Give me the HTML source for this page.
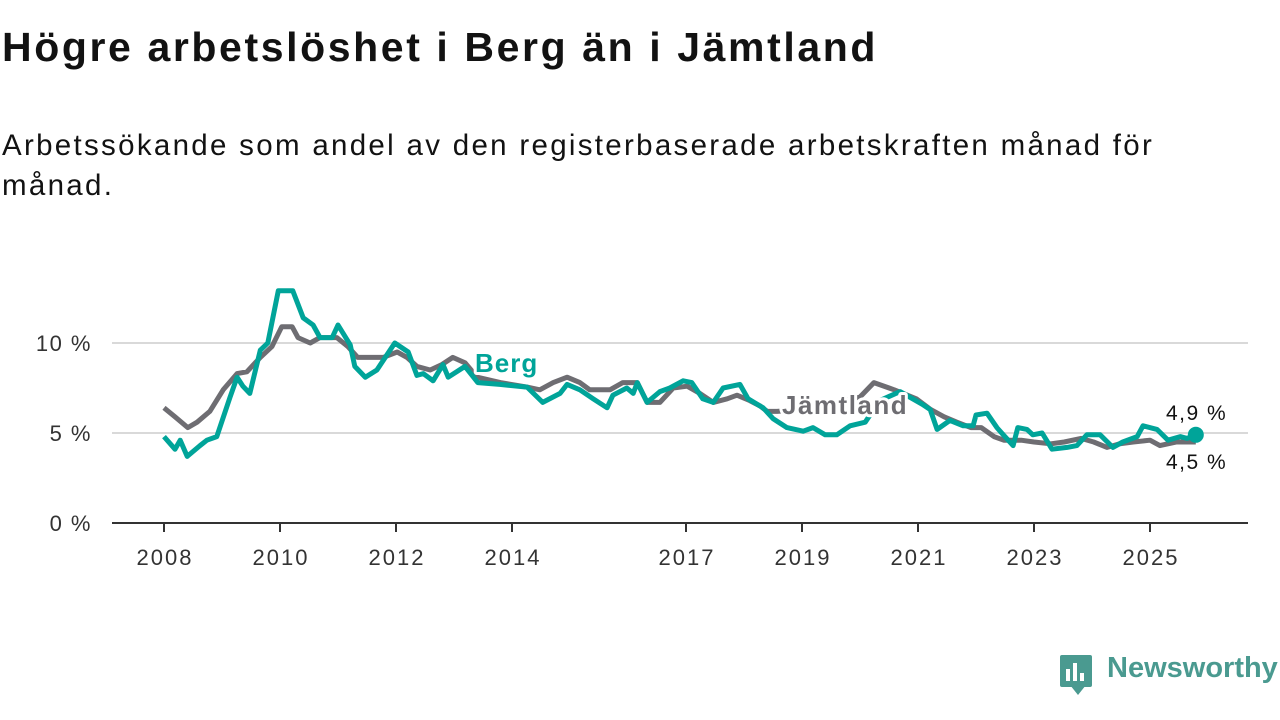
<!DOCTYPE html>
<html><head><meta charset="utf-8"><style>
body{margin:0;width:1280px;height:720px;background:#fff;overflow:hidden;font-family:"Liberation Sans",sans-serif;position:relative}
h1{position:absolute;left:2px;top:24px;margin:0;font-size:41px;font-weight:bold;color:#121212;letter-spacing:2.6px;white-space:nowrap}
p{position:absolute;left:2px;top:126px;margin:0;font-size:29.5px;line-height:40px;color:#121212;width:1240px;letter-spacing:2.3px}
svg{position:absolute;left:0;top:0}
</style></head><body>
<h1>Högre arbetslöshet i Berg än i Jämtland</h1>
<p>Arbetssökande som andel av den registerbaserade arbetskraften månad för<br>månad.</p>
<svg id="chart" width="1280" height="720"></svg>
<script>
const yTicks=[0,5,10];
const xTickYears=[2008,2010,2012,2014,2017,2019,2021,2023,2025];
const bergT=[0,.19,.28,.40,.62,.74,.91,1.14,1.26,1.36,1.48,1.66,1.79,1.97,2.22,2.40,2.57,2.69,2.90,3.0,3.21,3.29,3.47,3.67,3.98,4.21,4.36,4.47,4.64,4.81,4.90,5.19,5.41,5.79,6.26,6.53,6.83,6.95,7.17,7.40,7.64,7.74,7.98,8.09,8.16,8.33,8.55,8.72,8.95,9.10,9.29,9.47,9.64,9.93,10.07,10.33,10.5,10.74,11.02,11.19,11.40,11.60,11.83,12.09,12.34,12.69,13.07,13.21,13.33,13.55,13.78,13.95,14.0,14.19,14.36,14.47,14.64,14.72,14.88,14.98,15.14,15.31,15.57,15.74,15.91,16.14,16.36,16.53,16.78,16.88,17.12,17.31,17.52,17.64,17.79];
const bergV=[4.8,4.1,4.6,3.7,4.3,4.6,4.8,7.0,8.1,7.6,7.2,9.6,10.0,12.9,12.9,11.4,11.0,10.3,10.3,11.0,9.9,8.7,8.1,8.5,10.0,9.5,8.2,8.3,7.9,8.8,8.1,8.7,7.8,7.7,7.55,6.7,7.2,7.7,7.4,6.9,6.4,7.1,7.5,7.2,7.8,6.7,7.3,7.5,7.9,7.8,6.9,6.7,7.5,7.7,6.9,6.4,5.8,5.3,5.1,5.3,4.9,4.9,5.4,5.6,6.8,7.3,6.6,6.3,5.2,5.7,5.4,5.4,6.0,6.1,5.3,4.9,4.3,5.3,5.2,4.9,5.0,4.1,4.2,4.3,4.9,4.9,4.2,4.5,4.8,5.4,5.2,4.6,4.8,4.7,4.9];
const jamtT=[0,.19,.41,.57,.79,1.02,1.26,1.43,1.66,1.86,2.03,2.21,2.31,2.52,2.69,2.98,3.17,3.34,3.55,3.78,4.02,4.19,4.36,4.59,4.79,4.98,5.19,5.40,5.8,6.26,6.48,6.71,6.95,7.17,7.34,7.69,7.91,8.16,8.33,8.55,8.78,9.02,9.24,9.47,9.71,9.88,10.1,10.28,10.40,10.57,11.0,11.5,12.0,12.24,12.59,12.97,13.22,13.45,13.67,13.91,14.09,14.31,14.48,14.78,15.0,15.29,15.52,15.81,16.03,16.26,16.48,16.71,17.0,17.17,17.45,17.79];
const jamtV=[6.4,5.9,5.3,5.6,6.2,7.4,8.3,8.4,9.2,9.8,10.9,10.9,10.3,10.0,10.3,10.3,9.8,9.2,9.2,9.2,9.5,9.2,8.7,8.5,8.8,9.2,8.9,8.1,7.8,7.55,7.4,7.8,8.1,7.8,7.4,7.4,7.8,7.8,6.7,6.7,7.5,7.6,7.2,6.7,6.9,7.1,6.8,6.5,6.2,6.2,6.3,6.6,7.0,7.8,7.4,6.9,6.3,5.9,5.6,5.3,5.3,4.8,4.6,4.6,4.5,4.4,4.5,4.7,4.5,4.2,4.4,4.5,4.6,4.3,4.5,4.5];
const NS="http://www.w3.org/2000/svg",svg=document.getElementById('chart');
const X=t=>164+58*t, Y=v=>523-18*v;
function mk(tag,attrs,parent){const e=document.createElementNS(NS,tag);for(const k in attrs)e.setAttribute(k,attrs[k]);(parent||svg).appendChild(e);return e;}
yTicks.forEach(v=>{
  if(v>0){const g=mk('line',{x1:112,x2:1248,y1:Y(v),y2:Y(v),stroke:'#d9d9d9','stroke-width':2});
  
  }
  const t=mk('text',{x:92,y:Y(v)+8,'text-anchor':'end','font-size':22,'letter-spacing':1.5,fill:'#333'});t.textContent=v+' %';
  
  
});
const ax=mk('line',{x1:112,x2:1248,y1:523,y2:523,stroke:'#333','stroke-width':2});


xTickYears.forEach(y=>{
  const x=X(y-2008);
  mk('line',{x1:x,x2:x,y1:523,y2:532,stroke:'#333','stroke-width':2});
  const t=mk('text',{x:x+1,y:565,'text-anchor':'middle','font-size':22,'letter-spacing':2,fill:'#333'});t.textContent=y;
  
  
});
function path(T,V){return T.map((t,i)=>(i?'L':'M')+X(t).toFixed(1)+' '+Y(V[i]).toFixed(1)).join(' ');}
const jl=mk('path',{d:path(jamtT,jamtV),fill:'none',stroke:'#6e6d72','stroke-width':5,'stroke-linejoin':'round'});


const bl=mk('path',{d:path(bergT,bergV),fill:'none',stroke:'#00a499','stroke-width':5,'stroke-linejoin':'round'});


const last=bergT.length-1;
const dot=mk('circle',{cx:X(bergT[last]),cy:Y(bergV[last]),r:8,fill:'#00a499'});


function lab(txt,x,y,fill,size,bold,name,ls){const t=mk('text',{x:x,y:y,'font-size':size,'font-weight':bold?'bold':'normal','letter-spacing':ls,fill:fill,stroke:'#fff','stroke-width':bold?6:0,'paint-order':'stroke','stroke-linejoin':'round'});t.textContent=txt;

}
lab('Berg',475,372,'#00a499',26,true,'berg-label',1);
lab('Jämtland',782,414,'#6e6d72',26,true,'jamtland-label',1.5);
lab('4,9 %',1166,420,'#121212',21,false,'berg-end-value',1.5);
lab('4,5 %',1166,469,'#121212',21,false,'jamtland-end-value',1.5);
</script>
<div style="position:absolute;left:1060px;top:655px;">
<div style="position:absolute;left:0;top:0;width:32px;height:32px;background:#4a9a90;border-radius:2px"></div>
<div style="position:absolute;left:10px;top:30px;width:0;height:0;border-left:8px solid transparent;border-right:8px solid transparent;border-top:10px solid #4a9a90"></div>
<div style="position:absolute;left:6px;top:14px;width:4px;height:12px;background:#fff"></div>
<div style="position:absolute;left:13px;top:8px;width:4px;height:18px;background:#fff"></div>
<div style="position:absolute;left:20px;top:18px;width:4px;height:8px;background:#fff"></div>
<div style="position:absolute;left:47px;top:-3px;font-size:29px;font-weight:bold;color:#4a9a90;white-space:nowrap">Newsworthy</div>
</div>
</body></html>
